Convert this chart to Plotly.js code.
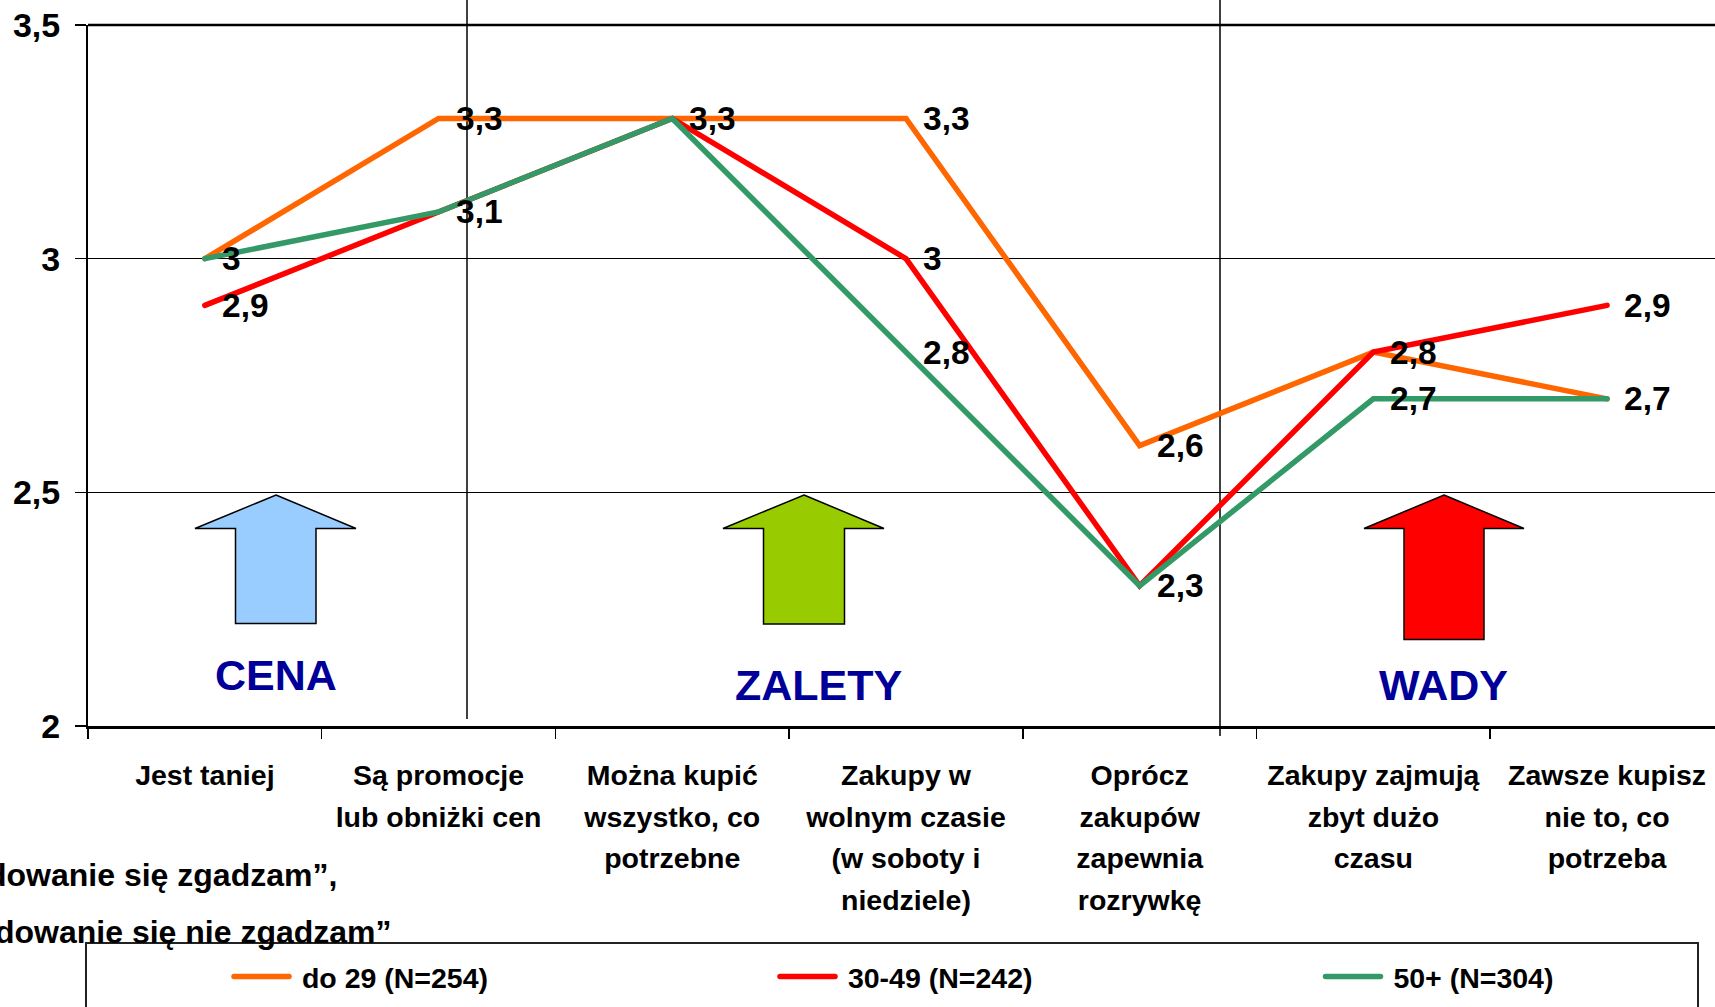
<!DOCTYPE html>
<html><head><meta charset="utf-8">
<script src="https://cdn.plot.ly/plotly-3.0.1.min.js"></script>
<style>html,body{margin:0;padding:0;background:#fff;overflow:hidden}
.js-line,.legendlines path{stroke-linecap:round}</style>
</head><body><div id="chart" style="width:1715px;height:1007px"></div>
<script>
const categories = ["Jest taniej","Są promocje<br>lub obniżki cen","Można kupić<br>wszystko, co<br>potrzebne","Zakupy w<br>wolnym czasie<br>(w soboty i<br>niedziele)","Oprócz<br>zakupów<br>zapewnia<br>rozrywkę","Zakupy zajmują<br>zbyt dużo<br>czasu","Zawsze kupisz<br>nie to, co<br>potrzeba"];
const seriesNames = ["do 29 (N=254)","30-49 (N=242)","50+ (N=304)"];
const young = [3,3.3,3.3,3.3,2.6,2.8,2.7];
const middle = [2.9,3.1,3.3,3,2.3,2.8,2.9];
const older = [3,3.1,3.3,2.8,2.3,2.7,2.7];
const seriesColors = ["#FF6600","#FF0000","#339966"];
const yTicks = [2,2.5,3,3.5];
const groupLabels = ["CENA","ZALETY","WADY"];
const FONT = "'Liberation Sans', Arial, sans-serif";
const L=88,R=1715,T=25,B=726;
const px=v=>(v-L)/(R-L), py=v=>(B-v)/(B-T);

const all=[young,middle,older];
const traces=all.map((vals,i)=>({
  type:"scatter",mode:"lines",x:categories,y:vals,name:"\u00a0"+seriesNames[i],
  line:{color:seriesColors[i],width:5.5,shape:"linear"},
  legend:i===0?"legend":"legend"+(i+1),hoverinfo:"skip"
}));

const seen=new Set(),annotations=[];
all.forEach(vals=>vals.forEach((v,i)=>{
  const k=i+"|"+v; if(seen.has(k))return; seen.add(k);
  annotations.push({x:categories[i],y:v,xref:"x",yref:"y",text:String(v).replace(".",","),showarrow:false,
    xanchor:"left",yanchor:"middle",xshift:15,font:{family:FONT,size:33.5,color:"#000",weight:700}});
}));
const free=(text,x,y,anchor,size,color)=>({xref:"paper",yref:"paper",x:px(x),y:py(y),text,showarrow:false,
  xanchor:anchor,yanchor:"middle",font:{family:FONT,size,color,weight:700}});
annotations.push(free(groupLabels[0],275.5,675,"center",43,"#000099"));
annotations.push(free(groupLabels[1],818,685,"center",43,"#000099"));
annotations.push(free(groupLabels[2],1443,685,"center",43,"#000099"));
annotations.push(free("dowanie się zgadzam”,",339,875,"right",32,"#000"));
annotations.push(free("dowanie się nie zgadzam”",394,932,"right",32,"#000"));

function arrow(cx,left,right,sl,sr,tip,head,bottom,fill){
  const p=(x,y)=>px(x)+" "+py(y);
  return {type:"path",xref:"paper",yref:"paper",layer:"above",fillcolor:fill,line:{color:"#000",width:1.5},
   path:"M"+[p(cx,tip),p(right,head),p(sr,head),p(sr,bottom),p(sl,bottom),p(sl,head),p(left,head)].join(" L")+" Z"};
}
const vline=(x,y0,y1)=>({type:"line",xref:"paper",yref:"paper",layer:"below",x0:px(x),x1:px(x),y0:py(y0),y1:py(y1),line:{color:"#000",width:1.5}});
const shapes=[
  vline(467,0,719),vline(1220,0,736),
  {type:"line",xref:"paper",yref:"paper",layer:"below",x0:0,x1:1,y0:1,y1:1,line:{color:"#000",width:2.5}},
  {type:"rect",xref:"paper",yref:"paper",layer:"below",x0:px(86),x1:px(1698),y0:py(943),y1:py(1030),line:{color:"#222",width:2},fillcolor:"rgba(0,0,0,0)"},
  arrow(276,195,356,235.5,316,495,528.5,623.5,"#99CCFF"),
  arrow(804,723,884,763.5,844.5,495,528.5,624,"#99CC00"),
  arrow(1444,1364,1524,1404,1484,495,528.5,639.5,"#FF0000")
];
const legendCfg=x=>({orientation:"v",x:px(x),y:py(977),xanchor:"left",yanchor:"middle",itemwidth:55,bgcolor:"rgba(0,0,0,0)",borderwidth:0,
  font:{family:FONT,size:28.5,color:"#000",weight:700}});

const layout={
  width:1715,height:1007,margin:{l:L,r:0,t:T,b:1007-B,pad:0},autosize:false,
  paper_bgcolor:"#fff",plot_bgcolor:"#fff",separators:", ",showlegend:true,
  font:{family:FONT,color:"#000"},
  xaxis:{type:"category",categoryorder:"array",categoryarray:categories,range:[-0.5,(R-L)/233.7-0.5],tickson:"boundaries",
    ticks:"outside",ticklen:10,tickwidth:1.5,tickcolor:"#000",showline:true,linecolor:"#000",linewidth:3,showgrid:false,zeroline:false,
    tickangle:0,automargin:false,ticklabelstandoff:22,tickfont:{family:FONT,size:28.5,color:"#000",weight:700}},
  yaxis:{range:[2,3.5],tickmode:"array",tickvals:yTicks,ticks:"outside",ticklen:11,tickwidth:1.5,tickcolor:"#000",showline:true,linecolor:"#000",linewidth:2,
    showgrid:true,gridcolor:"#000",gridwidth:1.5,zeroline:false,automargin:false,ticklabelstandoff:8,tickfont:{family:FONT,size:34,color:"#000",weight:700}},
  legend:legendCfg(229),legend2:legendCfg(775),legend3:legendCfg(1320.5),
  annotations,shapes
};
Plotly.newPlot("chart",traces,layout,{displayModeBar:false,staticPlot:true}).then(gd=>{
  gd.querySelectorAll(".xtick text tspan.line").forEach(t=>{
    const d=parseFloat(t.getAttribute("dy")||"0");
    if(d) t.setAttribute("dy",(d*41.6/(1.3*28.5))+"em");
  });
});
</script></body></html>
